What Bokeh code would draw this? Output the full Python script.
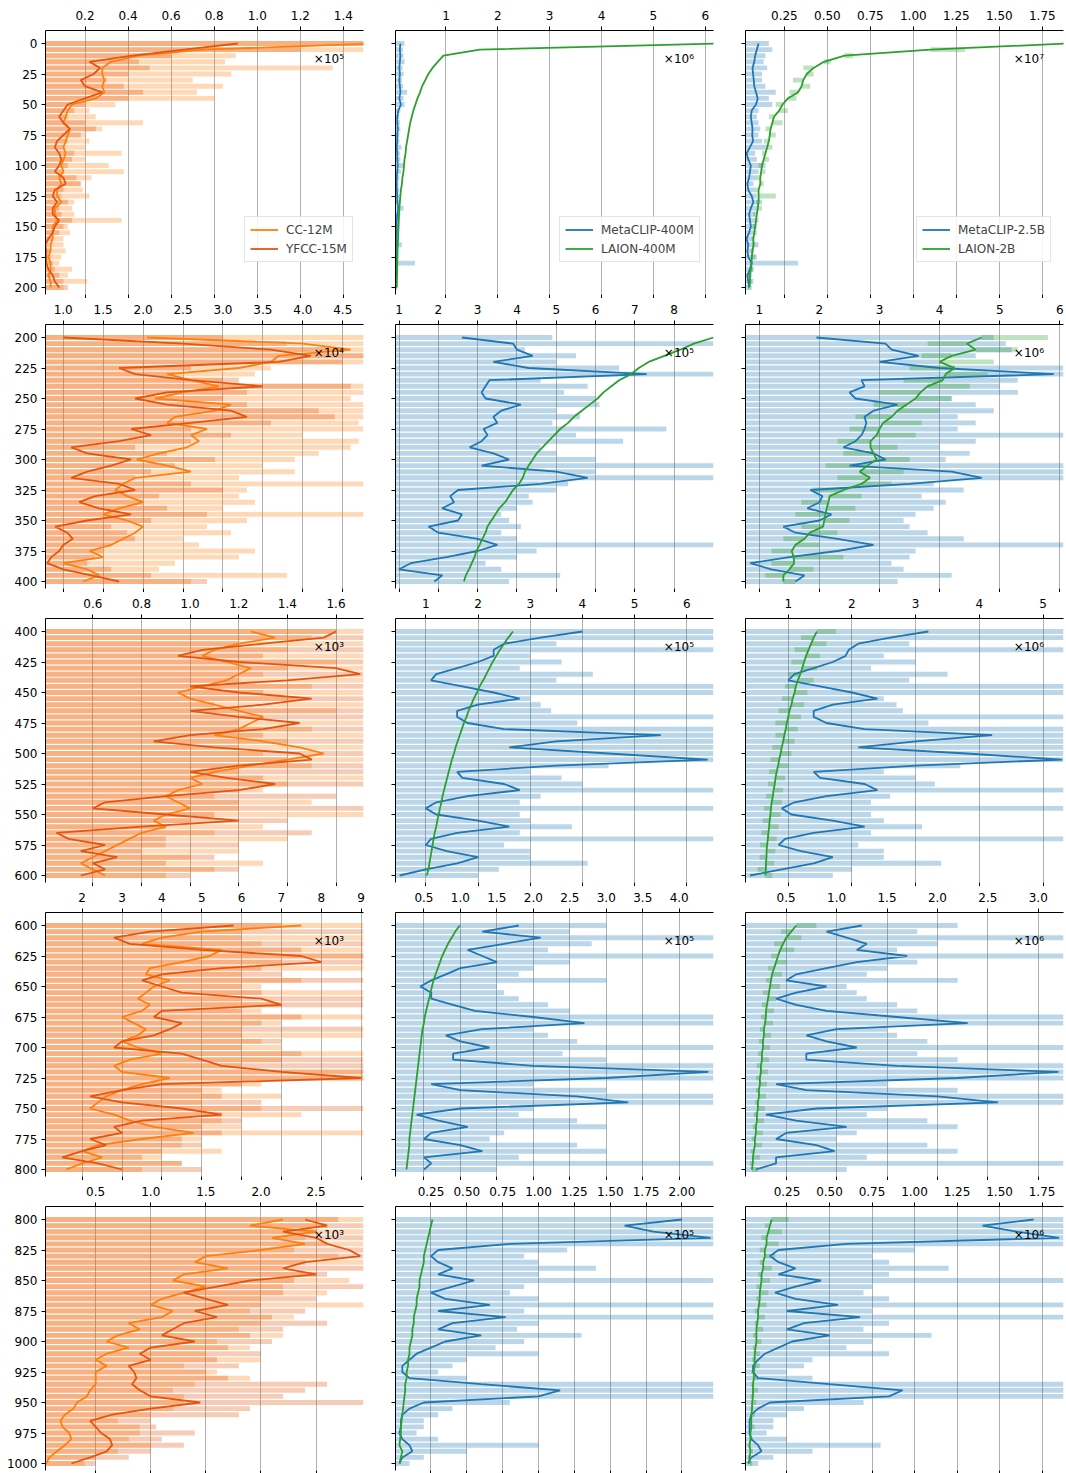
from bokeh.plotting import figure
from bokeh.layouts import row, column
from bokeh.models import Range1d, LinearAxis, FixedTicker, Label, Legend, LegendItem
from bokeh.embed import file_html
from bokeh.resources import INLINE

FONT = "DejaVu Sans"
CLASS_STEP = 5
ROW_START = [0, 200, 400, 600, 800]
EXPONENT = [[5, 6, 7], [4, 5, 6], [3, 5, 6], [3, 5, 6], [3, 5, 6]]
X_LIMITS = [
    [(0.0165, 1.4935), (0.026, 6.16), (0.024, 1.873)],
    [(0.778, 4.76), (0.91, 9.0), (0.77, 6.06)],
    [(0.405, 1.713), (0.42, 6.51), (0.33, 5.32)],
    [(1.08, 9.06), (0.11, 4.47), (0.097, 3.25)],
    [(0.045, 2.93), (0.0025, 2.22), (0.006, 1.876)],
]
X_TICKS = [
    [["0.2", "0.4", "0.6", "0.8", "1.0", "1.2", "1.4"], ["1", "2", "3", "4", "5", "6"],
     ["0.25", "0.50", "0.75", "1.00", "1.25", "1.50", "1.75"]],
    [["1.0", "1.5", "2.0", "2.5", "3.0", "3.5", "4.0", "4.5"], ["1", "2", "3", "4", "5", "6", "7", "8"],
     ["1", "2", "3", "4", "5", "6"]],
    [["0.6", "0.8", "1.0", "1.2", "1.4", "1.6"], ["1", "2", "3", "4", "5", "6"], ["1", "2", "3", "4", "5"]],
    [["2", "3", "4", "5", "6", "7", "8", "9"], ["0.5", "1.0", "1.5", "2.0", "2.5", "3.0", "3.5", "4.0"],
     ["0.5", "1.0", "1.5", "2.0", "2.5", "3.0"]],
    [["0.5", "1.0", "1.5", "2.0", "2.5"], ["0.25", "0.50", "0.75", "1.00", "1.25", "1.50", "1.75", "2.00"],
     ["0.25", "0.50", "0.75", "1.00", "1.25", "1.50", "1.75"]],
]

# ---- smoothed per-class counts (in panel units), one list per 200-class row, every 5 classes
CC12M_LINE = [
    [1.55, 0.75, 0.45, 0.32, 0.28, 0.28, 0.29, 0.28, 0.29, 0.25, 0.14, 0.12, 0.11, 0.10, 0.13, 0.12, 0.11, 0.10, 0.11, 0.10,
     0.09, 0.10, 0.08, 0.09, 0.07, 0.07, 0.09, 0.06, 0.06, 0.07, 0.05, 0.05, 0.05, 0.04, 0.04, 0.03, 0.04, 0.04, 0.03, 0.04, 0.04],
    [2.05, 4.0, 4.6, 3.7, 3.6, 3.2, 2.3, 2.6, 2.95, 2.5, 2.15, 3.1, 2.9, 2.4, 2.3, 2.8, 2.6, 2.7, 2.55, 2.2,
     1.92, 2.3, 2.6, 1.9, 1.75, 1.65, 1.8, 2.0, 1.7, 1.5, 1.8, 2.0, 1.9, 1.75, 1.6, 1.33, 1.5, 1.0, 1.3, 1.45, 1.25],
    [1.25, 1.35, 1.2, 1.1, 1.05, 1.15, 1.25, 1.2, 1.15, 1.05, 0.95, 1.0, 1.1, 1.2, 1.3, 1.25, 1.2, 1.1, 1.3, 1.45,
     1.55, 1.4, 1.25, 1.1, 1.0, 1.05, 0.95, 0.9, 0.95, 1.0, 0.9, 0.85, 0.9, 0.8, 0.75, 0.7, 0.65, 0.6, 0.55, 0.6, 0.65],
    [7.5, 5.0, 4.0, 3.5, 5.5, 5.2, 4.5, 3.7, 3.6, 4.2, 3.8, 3.6, 3.4, 3.7, 3.5, 3.0, 3.3, 3.6, 3.4, 3.0,
     3.4, 4.0, 3.2, 2.8, 3.0, 4.2, 3.5, 3.0, 2.6, 2.4, 2.2, 2.8, 3.2, 3.8, 4.8, 3.5, 2.4, 2.0, 2.5, 2.0, 1.6],
    [2.2, 1.9, 2.5, 2.1, 2.4, 2.0, 1.5, 1.4, 1.7, 1.3, 1.2, 1.5, 1.3, 1.1, 1.0, 1.2, 1.1, 0.8, 0.9, 0.7,
     0.6, 0.8, 0.6, 0.5, 0.6, 0.5, 0.5, 0.5, 0.45, 0.42, 0.33, 0.3, 0.22, 0.18, 0.2, 0.26, 0.28, 0.22, 0.15, 0.08, 0.05],
]
YFCC_LINE = [
    [0.91, 0.66, 0.42, 0.22, 0.27, 0.24, 0.18, 0.2, 0.28, 0.2, 0.12, 0.1, 0.08, 0.1, 0.13, 0.1, 0.07, 0.06, 0.08, 0.09,
     0.08, 0.06, 0.1, 0.11, 0.06, 0.05, 0.07, 0.05, 0.05, 0.08, 0.06, 0.05, 0.03, 0.015, 0.02, 0.02, 0.02, 0.03, 0.05, 0.06, 0.08],
    [1.0, 2.5, 3.6, 4.1, 3.7, 1.7, 1.9, 2.6, 3.5, 2.3, 1.9, 2.3, 3.1, 3.3, 2.6, 1.85, 2.1, 1.7, 1.1, 1.3,
     1.85, 1.6, 1.3, 1.1, 1.7, 1.9, 1.4, 1.2, 1.45, 1.85, 1.3, 0.9, 1.05, 1.12, 1.0, 0.95, 0.85, 0.8, 1.0, 1.35, 1.7],
    [1.6, 1.55, 1.3, 1.05, 0.95, 1.2, 1.6, 1.7, 1.4, 1.0, 1.2, 1.5, 1.3, 1.0, 1.2, 1.45, 1.3, 1.0, 0.85, 1.1,
     1.45, 1.5, 1.2, 1.0, 1.15, 1.35, 1.2, 0.9, 0.65, 0.6, 0.9, 1.2, 0.8, 0.45, 0.5, 0.65, 0.55, 0.7, 0.6, 0.65, 0.55],
    [5.8, 3.7, 2.8, 3.2, 5.0, 7.5, 8.0, 5.5, 4.0, 3.5, 4.0, 4.5, 6.5, 7.0, 4.0, 3.8, 4.5, 4.2, 3.8, 3.0,
     2.8, 4.5, 5.0, 5.5, 7.0, 9.0, 4.0, 3.0, 2.2, 3.0, 4.5, 5.5, 3.5, 2.8, 3.0, 2.2, 2.6, 2.0, 1.5, 2.4, 3.0],
    [2.4, 2.6, 2.2, 2.5, 2.6, 2.8, 2.9, 2.4, 2.2, 2.5, 1.9, 1.6, 1.3, 1.5, 1.7, 1.4, 1.6, 1.3, 1.2, 1.1,
     1.4, 1.0, 0.9, 1.0, 0.8, 0.85, 0.87, 0.83, 0.9, 1.0, 1.45, 1.0, 0.65, 0.45, 0.5, 0.55, 0.63, 0.65, 0.6, 0.45, 0.28],
]
META400_LINE = [
    [0.12, 0.11, 0.12, 0.11, 0.1, 0.11, 0.1, 0.11, 0.12, 0.1, 0.13, 0.08, 0.06, 0.06, 0.07, 0.06, 0.06, 0.05, 0.06, 0.06,
     0.07, 0.06, 0.05, 0.05, 0.05, 0.06, 0.06, 0.08, 0.06, 0.05, 0.05, 0.05, 0.04, 0.05, 0.04, 0.04, 0.04, 0.05, 0.04, 0.04, 0.04],
    [2.6, 3.9, 4.0, 4.4, 3.4, 4.3, 7.3, 3.3, 3.2, 3.1, 3.2, 4.1, 3.6, 3.4, 3.5, 3.15, 3.25, 3.1, 2.8, 3.4,
     3.8, 3.1, 5.0, 5.8, 4.6, 2.5, 2.3, 2.4, 2.1, 2.6, 2.5, 1.75, 2.0, 3.0, 3.5, 3.0, 2.2, 1.3, 1.0, 2.1, 1.9],
    [4.0, 3.2, 2.5, 2.3, 2.3, 2.0, 1.6, 1.2, 1.1, 1.7, 2.3, 2.8, 2.0, 1.6, 1.6, 1.8, 2.5, 5.5, 3.5, 2.6,
     4.5, 6.4, 3.5, 1.6, 1.7, 2.5, 2.8, 1.8, 1.2, 1.0, 1.2, 2.0, 2.6, 1.6, 1.1, 1.0, 1.4, 2.0, 1.6, 1.0, 0.5],
    [1.8, 1.3, 2.1, 1.6, 1.1, 1.3, 1.5, 1.0, 0.8, 0.6, 0.45, 0.6, 0.6, 0.9, 1.2, 2.0, 2.7, 1.3, 0.8, 1.0,
     1.4, 0.9, 0.9, 2.0, 4.4, 3.0, 0.6, 1.0, 2.6, 3.3, 1.0, 0.4, 0.7, 1.1, 0.6, 0.5, 1.0, 1.3, 0.5, 0.6, 0.5],
    [2.0, 1.6, 1.8, 2.2, 0.8, 0.3, 0.25, 0.3, 0.4, 0.3, 0.55, 0.4, 0.25, 0.35, 0.66, 0.3, 0.77, 0.4, 0.3, 0.6,
     0.35, 0.25, 0.15, 0.1, 0.05, 0.05, 0.1, 0.6, 1.15, 1.0, 0.2, 0.1, 0.05, 0.04, 0.04, 0.03, 0.05, 0.1, 0.12, 0.05, 0.03],
]
LAION400_LINE = [
    [6.3, 1.65, 0.95, 0.84, 0.74, 0.66, 0.6, 0.54, 0.5, 0.45, 0.41, 0.37, 0.34, 0.31, 0.29, 0.27, 0.25, 0.23, 0.22, 0.2,
     0.19, 0.18, 0.16, 0.15, 0.13, 0.12, 0.11, 0.1, 0.095, 0.09, 0.085, 0.08, 0.075, 0.07, 0.065, 0.062, 0.06, 0.058, 0.055, 0.052, 0.05],
    [9.0, 8.5, 8.15, 7.75, 7.35, 7.1, 6.9, 6.6, 6.4, 6.2, 6.05, 5.85, 5.65, 5.45, 5.3, 5.1, 4.95, 4.8, 4.65, 4.5,
     4.4, 4.3, 4.2, 4.15, 4.05, 3.9, 3.8, 3.7, 3.55, 3.45, 3.35, 3.25, 3.2, 3.12, 3.05, 2.97, 2.92, 2.85, 2.78, 2.7, 2.65],
    [2.67, 2.58, 2.5, 2.42, 2.35, 2.28, 2.22, 2.16, 2.1, 2.03, 1.98, 1.92, 1.87, 1.82, 1.78, 1.73, 1.69, 1.65, 1.61, 1.57,
     1.54, 1.5, 1.47, 1.44, 1.41, 1.38, 1.35, 1.32, 1.3, 1.27, 1.25, 1.22, 1.2, 1.17, 1.15, 1.13, 1.11, 1.09, 1.07, 1.05, 1.02],
    [0.99, 0.93, 0.88, 0.83, 0.79, 0.75, 0.72, 0.69, 0.66, 0.63, 0.61, 0.59, 0.57, 0.55, 0.53, 0.51, 0.5, 0.48, 0.47, 0.46,
     0.45, 0.44, 0.43, 0.42, 0.41, 0.4, 0.39, 0.38, 0.37, 0.36, 0.35, 0.34, 0.33, 0.32, 0.31, 0.3, 0.3, 0.29, 0.28, 0.27, 0.26],
    [0.26, 0.25, 0.24, 0.23, 0.22, 0.21, 0.2, 0.2, 0.19, 0.18, 0.17, 0.17, 0.16, 0.15, 0.15, 0.14, 0.13, 0.13, 0.12, 0.12,
     0.11, 0.1, 0.1, 0.09, 0.09, 0.08, 0.08, 0.07, 0.07, 0.065, 0.06, 0.055, 0.05, 0.045, 0.04, 0.04, 0.035, 0.03, 0.05, 0.04, 0.03],
]
META25_LINE = [
    [0.1, 0.09, 0.08, 0.075, 0.065, 0.068, 0.072, 0.075, 0.085, 0.095, 0.085, 0.06, 0.055, 0.06, 0.065, 0.063, 0.068, 0.05, 0.03, 0.04,
     0.055, 0.05, 0.045, 0.035, 0.04, 0.06, 0.07, 0.055, 0.045, 0.05, 0.055, 0.045, 0.03, 0.04, 0.035, 0.04, 0.06, 0.05, 0.035, 0.04, 0.045],
    [1.95, 3.1, 3.2, 3.65, 3.0, 4.0, 5.9, 2.7, 2.75, 2.5, 2.6, 3.3, 2.9, 2.75, 2.78, 2.75, 2.7, 2.6, 2.4, 2.9,
     3.1, 2.5, 4.2, 4.7, 3.5, 1.85, 2.05, 2.0, 1.8, 2.2, 2.0, 1.4, 1.6, 2.3, 2.9, 2.3, 1.5, 0.85, 1.2, 1.75, 1.6],
    [3.2, 2.6, 2.1, 1.95, 1.9, 1.7, 1.4, 1.1, 1.0, 1.5, 2.0, 2.4, 1.7, 1.4, 1.4, 1.6, 2.2, 4.2, 3.0, 2.1,
     3.8, 5.3, 3.0, 1.4, 1.5, 2.2, 2.4, 1.6, 1.1, 0.9, 1.05, 1.7, 2.2, 1.4, 0.95, 0.85, 1.2, 1.7, 1.4, 0.9, 0.4],
    [1.25, 0.9, 1.1, 1.3, 1.2, 1.7, 1.2, 0.9, 0.6, 0.5, 0.9, 0.6, 0.4, 0.6, 0.9, 1.6, 2.3, 1.0, 0.7, 0.9,
     1.2, 0.7, 0.7, 1.6, 3.2, 2.2, 0.4, 0.7, 2.0, 2.6, 0.8, 0.3, 0.6, 1.1, 0.5, 0.4, 0.8, 0.98, 0.4, 0.4, 0.2],
    [1.7, 1.4, 1.6, 1.85, 0.6, 0.2, 0.15, 0.2, 0.3, 0.2, 0.45, 0.3, 0.18, 0.3, 0.55, 0.25, 0.68, 0.35, 0.25, 0.5,
     0.28, 0.2, 0.12, 0.08, 0.05, 0.05, 0.08, 0.5, 0.93, 0.85, 0.15, 0.08, 0.04, 0.03, 0.03, 0.03, 0.04, 0.08, 0.1, 0.04, 0.02],
]
LAION2B_LINE = [
    [1.9, 1.1, 0.6, 0.48, 0.42, 0.38, 0.36, 0.35, 0.33, 0.27, 0.24, 0.22, 0.19, 0.18, 0.17, 0.165, 0.16, 0.15, 0.14, 0.13,
     0.12, 0.115, 0.11, 0.11, 0.1, 0.1, 0.1, 0.095, 0.09, 0.085, 0.08, 0.075, 0.07, 0.07, 0.065, 0.06, 0.06, 0.055, 0.05, 0.05, 0.047],
    [4.7, 4.45, 4.6, 4.2, 4.0, 4.25, 4.1, 4.05, 3.8, 3.68, 3.6, 3.45, 3.3, 3.2, 3.06, 3.0, 2.95, 2.85, 2.85, 2.9,
     2.95, 2.8, 2.67, 2.84, 2.7, 2.4, 2.17, 2.15, 2.12, 2.1, 2.08, 2.06, 1.84, 1.75, 1.6, 1.54, 1.57, 1.58, 1.5, 1.4, 1.4],
    [1.45, 1.4, 1.36, 1.32, 1.28, 1.25, 1.22, 1.19, 1.15, 1.12, 1.1, 1.07, 1.05, 1.02, 1.0, 0.98, 0.96, 0.94, 0.92, 0.9,
     0.88, 0.86, 0.84, 0.82, 0.8, 0.79, 0.77, 0.76, 0.74, 0.73, 0.72, 0.71, 0.7, 0.69, 0.68, 0.67, 0.66, 0.66, 0.65, 0.65, 0.64],
    [0.6, 0.55, 0.5, 0.47, 0.44, 0.42, 0.4, 0.38, 0.36, 0.35, 0.34, 0.33, 0.32, 0.31, 0.3, 0.3, 0.29, 0.28, 0.28, 0.27,
     0.27, 0.26, 0.26, 0.25, 0.25, 0.24, 0.24, 0.23, 0.23, 0.22, 0.22, 0.21, 0.21, 0.2, 0.2, 0.19, 0.19, 0.18, 0.17, 0.17, 0.16],
    [0.16, 0.15, 0.14, 0.13, 0.13, 0.12, 0.12, 0.11, 0.11, 0.1, 0.1, 0.095, 0.09, 0.09, 0.085, 0.08, 0.08, 0.075, 0.07, 0.07,
     0.07, 0.065, 0.06, 0.06, 0.06, 0.055, 0.055, 0.05, 0.05, 0.05, 0.045, 0.045, 0.04, 0.04, 0.04, 0.035, 0.035, 0.03, 0.035, 0.03, 0.03],
]

# ---- raw per-class counts (bars), same class grid
CC12M_BAR = [
    [1.6, 1.6, 0.9, 0.85, 1.35, 0.88, 0.7, 0.84, 0.72, 0.8, 0.34, 0.22, 0.25, 0.47, 0.28, 0.2, 0.22, 0.2, 0.37, 0.2,
     0.31, 0.38, 0.23, 0.18, 0.19, 0.22, 0.15, 0.14, 0.15, 0.37, 0.12, 0.13, 0.1, 0.1, 0.11, 0.09, 0.08, 0.14, 0.12, 0.21, 0.1],
    [4.8, 4.8, 4.8, 4.8, 4.8, 3.6, 3.4, 3.0, 4.8, 4.8, 4.6, 4.8, 4.8, 4.8, 4.7, 4.8, 4.0, 4.7, 4.6, 4.2,
     3.9, 3.5, 3.9, 3.2, 4.8, 3.3, 3.2, 3.4, 3.0, 4.8, 3.3, 2.8, 3.1, 2.5, 2.7, 3.4, 3.2, 2.4, 2.2, 3.8, 2.6],
    [1.75, 1.5, 1.75, 1.4, 1.75, 1.6, 1.75, 1.3, 1.75, 1.5, 1.75, 1.45, 1.75, 1.6, 1.3, 1.75, 1.5, 1.75, 1.4, 1.75,
     1.3, 1.75, 1.5, 1.2, 1.75, 1.4, 1.3, 1.1, 1.5, 1.2, 1.75, 1.0, 1.3, 1.1, 1.4, 0.9, 1.2, 1.0, 1.3, 1.1, 0.9],
    [9.1, 6.0, 9.1, 6.5, 9.1, 9.1, 7.0, 9.1, 6.0, 7.5, 6.5, 9.1, 6.0, 7.0, 6.5, 9.1, 7.0, 6.0, 9.1, 6.5,
     7.0, 9.1, 7.0, 6.0, 9.1, 9.1, 6.5, 5.5, 7.0, 5.0, 6.5, 7.5, 5.5, 6.0, 9.1, 5.0, 4.5, 5.5, 4.0, 4.5, 3.5],
    [2.95, 2.6, 2.95, 2.4, 2.95, 2.3, 2.7, 2.95, 2.2, 2.5, 2.8, 2.2, 2.6, 2.0, 2.95, 1.9, 2.3, 2.0, 1.8, 2.2,
     1.6, 1.9, 1.5, 2.0, 1.3, 1.6, 1.9, 1.4, 1.2, 1.3, 1.3, 1.2, 1.0, 0.7, 0.9, 0.9, 0.8, 1.0, 0.7, 0.5, 0.4],
]
YFCC_BAR = [
    [1.5, 1.2, 0.6, 0.45, 0.5, 0.4, 0.3, 0.38, 0.47, 0.4, 0.2, 0.15, 0.12, 0.2, 0.25, 0.18, 0.12, 0.1, 0.15, 0.14,
     0.12, 0.1, 0.16, 0.18, 0.1, 0.09, 0.12, 0.08, 0.09, 0.14, 0.1, 0.08, 0.05, 0.03, 0.04, 0.04, 0.05, 0.06, 0.08, 0.1, 0.12],
    [3.0, 3.8, 4.5, 4.8, 4.5, 2.6, 2.4, 3.2, 4.6, 3.3, 3.0, 3.3, 4.2, 4.4, 3.6, 2.6, 3.1, 2.6, 1.9, 2.3,
     2.9, 2.4, 2.1, 1.9, 2.6, 3.0, 2.2, 2.0, 2.3, 2.8, 2.1, 1.6, 1.8, 1.9, 1.6, 1.5, 1.4, 1.3, 1.6, 2.1, 2.8],
    [1.6, 1.75, 1.2, 1.75, 1.3, 1.75, 1.4, 1.75, 1.2, 1.75, 1.3, 1.75, 1.1, 1.75, 1.75, 1.2, 1.75, 1.3, 1.75, 1.2,
     1.75, 1.4, 1.75, 1.75, 1.3, 1.75, 1.2, 1.6, 1.2, 1.75, 1.1, 1.4, 0.9, 1.5, 0.9, 1.2, 0.8, 1.1, 0.9, 1.2, 1.0],
    [7.0, 9.1, 6.0, 9.1, 7.5, 9.1, 9.1, 6.5, 7.0, 9.1, 6.0, 6.5, 9.1, 9.1, 6.0, 7.5, 6.5, 9.1, 6.0, 7.0,
     6.0, 7.5, 9.1, 9.1, 9.1, 9.1, 6.0, 5.0, 5.5, 6.5, 9.1, 5.5, 6.0, 5.0, 5.5, 4.5, 5.0, 4.0, 3.5, 4.5, 5.0],
    [2.7, 2.95, 2.5, 2.95, 2.6, 2.95, 2.95, 2.4, 2.95, 2.6, 2.3, 2.95, 2.2, 2.5, 2.0, 2.4, 2.1, 2.6, 2.2, 1.9,
     2.1, 1.7, 2.0, 1.6, 1.8, 1.5, 1.7, 2.6, 2.4, 2.2, 2.95, 1.9, 1.8, 1.0, 1.05, 1.4, 1.1, 1.3, 1.0, 0.8, 0.5],
]
META400_BAR = [
    [0.2, 0.17, 0.18, 0.2, 0.16, 0.18, 0.15, 0.17, 0.25, 0.18, 0.2, 0.12, 0.1, 0.11, 0.12, 0.1, 0.1, 0.14, 0.11, 0.12,
     0.18, 0.13, 0.1, 0.08, 0.1, 0.1, 0.12, 0.18, 0.12, 0.09, 0.08, 0.09, 0.1, 0.15, 0.08, 0.08, 0.4, 0.07, 0.06, 0.07, 0.06],
    [4.9, 9.1, 4.2, 5.5, 5.0, 6.6, 9.1, 4.6, 5.8, 5.2, 6.0, 6.1, 5.0, 5.6, 4.9, 7.8, 5.5, 6.7, 4.6, 5.0,
     6.0, 9.1, 6.0, 9.1, 5.3, 5.0, 4.3, 4.4, 4.0, 3.6, 3.8, 4.1, 3.6, 4.0, 9.1, 4.5, 4.0, 3.2, 3.6, 5.1, 3.8],
    [6.6, 6.6, 3.5, 6.6, 3.0, 3.6, 2.8, 4.2, 3.5, 6.6, 6.6, 3.0, 3.2, 3.4, 6.6, 3.9, 6.6, 6.6, 6.6, 6.6,
     6.6, 6.6, 4.5, 3.0, 3.6, 4.0, 6.6, 3.2, 2.8, 6.6, 2.8, 3.0, 3.8, 2.8, 6.6, 2.5, 3.0, 3.0, 4.1, 2.4, 2.0],
    [3.0, 2.5, 4.5, 2.8, 2.2, 4.5, 2.5, 2.0, 1.8, 3.0, 1.5, 1.6, 1.8, 2.2, 2.5, 4.5, 4.5, 2.0, 2.2, 2.6,
     4.5, 2.4, 3.0, 4.5, 4.5, 4.5, 2.0, 3.0, 4.5, 4.5, 2.0, 1.8, 2.6, 3.0, 1.6, 1.4, 2.6, 3.0, 1.8, 4.5, 1.5],
    [2.25, 2.25, 2.25, 2.25, 2.25, 1.2, 0.9, 1.0, 1.4, 1.0, 2.25, 0.9, 0.8, 1.0, 2.25, 0.9, 2.25, 1.0, 0.85, 1.3,
     0.9, 0.7, 1.0, 0.5, 0.4, 0.3, 0.5, 2.25, 2.25, 2.25, 0.8, 0.4, 0.3, 0.2, 0.2, 0.15, 0.3, 1.0, 0.5, 0.2, 0.1],
]
META25_BAR = [
    [0.16, 0.18, 0.14, 0.13, 0.15, 0.12, 0.12, 0.14, 0.2, 0.16, 0.18, 0.1, 0.09, 0.1, 0.11, 0.1, 0.12, 0.15, 0.08, 0.09,
     0.14, 0.1, 0.09, 0.07, 0.08, 0.09, 0.12, 0.1, 0.08, 0.09, 0.09, 0.08, 0.07, 0.1, 0.07, 0.09, 0.33, 0.07, 0.06, 0.07, 0.06],
    [4.9, 5.1, 5.2, 4.6, 4.0, 6.1, 6.1, 5.3, 5.0, 5.3, 4.2, 4.6, 4.9, 4.3, 4.6, 4.3, 6.1, 4.6, 4.0, 4.5,
     4.1, 6.1, 6.1, 6.1, 3.9, 4.4, 3.7, 4.1, 3.9, 3.6, 3.4, 3.5, 3.8, 4.4, 6.1, 3.6, 3.5, 3.2, 3.4, 4.2, 3.3],
    [5.4, 5.4, 2.9, 5.4, 2.5, 3.0, 2.3, 3.5, 2.9, 5.4, 5.4, 2.5, 2.7, 2.8, 5.4, 3.2, 5.4, 5.4, 5.4, 5.4,
     5.4, 5.4, 3.7, 2.5, 3.0, 3.3, 5.4, 2.6, 2.3, 5.4, 2.3, 2.5, 3.1, 2.3, 5.4, 2.1, 2.5, 2.5, 3.4, 2.0, 1.7],
    [2.2, 1.8, 3.3, 2.0, 1.6, 3.3, 1.8, 1.5, 1.3, 2.2, 1.1, 1.2, 1.3, 1.6, 1.8, 3.3, 3.3, 1.5, 1.6, 1.9,
     3.3, 1.8, 2.2, 3.3, 3.3, 3.3, 1.5, 2.2, 3.3, 3.3, 1.5, 1.3, 1.9, 2.2, 1.2, 1.0, 1.9, 2.2, 1.3, 3.3, 1.1],
    [1.9, 1.9, 1.9, 1.9, 1.9, 1.0, 0.75, 0.85, 1.2, 0.85, 1.9, 0.75, 0.7, 0.85, 1.9, 0.75, 1.9, 0.85, 0.7, 1.1,
     0.75, 0.6, 0.85, 0.4, 0.35, 0.25, 0.4, 1.9, 1.9, 1.9, 0.7, 0.35, 0.25, 0.17, 0.17, 0.13, 0.25, 0.8, 0.4, 0.17, 0.08],
]
LAION2B_BAR = [
    [1.9, 1.3, 0.65, 0.52, 0.36, 0.42, 0.3, 0.4, 0.28, 0.32, 0.2, 0.27, 0.16, 0.24, 0.14, 0.2, 0.13, 0.18, 0.12, 0.16,
     0.1, 0.14, 0.09, 0.13, 0.08, 0.2, 0.085, 0.12, 0.07, 0.1, 0.065, 0.09, 0.06, 0.08, 0.055, 0.08, 0.05, 0.07, 0.04, 0.06, 0.04],
    [5.8, 3.8, 5.3, 3.7, 4.9, 3.5, 4.8, 3.4, 4.5, 3.0, 4.2, 2.9, 4.0, 2.6, 3.7, 2.5, 3.6, 2.3, 3.3, 2.4,
     3.5, 2.1, 3.4, 2.3, 3.2, 1.9, 2.7, 1.7, 2.6, 1.6, 2.5, 1.7, 2.3, 1.4, 2.0, 1.2, 2.4, 1.2, 1.9, 1.1, 1.6],
    [1.75, 1.2, 1.6, 1.1, 1.5, 1.05, 1.45, 1.0, 1.4, 0.95, 1.3, 0.9, 1.25, 0.85, 1.2, 0.8, 1.15, 0.8, 1.1, 0.75,
     1.05, 0.72, 1.0, 0.7, 0.95, 0.68, 0.92, 0.65, 0.9, 0.62, 0.88, 0.6, 0.85, 0.58, 0.82, 0.56, 0.8, 0.55, 0.78, 0.52, 0.75],
    [0.8, 0.45, 0.65, 0.38, 0.58, 0.35, 0.5, 0.32, 0.46, 0.3, 0.44, 0.27, 0.4, 0.26, 0.38, 0.25, 0.37, 0.24, 0.35, 0.23,
     0.34, 0.22, 0.33, 0.21, 0.32, 0.2, 0.31, 0.2, 0.3, 0.19, 0.29, 0.18, 0.28, 0.17, 0.27, 0.16, 0.26, 0.15, 0.24, 0.14, 0.22],
    [0.26, 0.12, 0.22, 0.1, 0.2, 0.09, 0.18, 0.09, 0.16, 0.08, 0.15, 0.07, 0.14, 0.07, 0.13, 0.06, 0.12, 0.06, 0.11, 0.05,
     0.1, 0.05, 0.09, 0.045, 0.09, 0.04, 0.08, 0.04, 0.08, 0.035, 0.07, 0.035, 0.06, 0.03, 0.06, 0.025, 0.05, 0.02, 0.05, 0.02, 0.045],
]

C_CC, C_YFCC, C_BLUE, C_GREEN = "#ff7f0e", "#e6550d", "#1f77b4", "#2ca02c"
COLUMN_SERIES = [
    [("CC-12M", C_CC, CC12M_LINE, CC12M_BAR, False), ("YFCC-15M", C_YFCC, YFCC_LINE, YFCC_BAR, False)],
    [("MetaCLIP-400M", C_BLUE, META400_LINE, META400_BAR, False), ("LAION-400M", C_GREEN, LAION400_LINE, None, False)],
    [("MetaCLIP-2.5B", C_BLUE, META25_LINE, META25_BAR, False), ("LAION-2B", C_GREEN, LAION2B_LINE, LAION2B_BAR, True)],
]
LEGEND_X = [199, 164, 171]
SUP = str.maketrans("0123456789", "⁰¹²³⁴⁵⁶⁷⁸⁹")

FRAME_W, FRAME_H = 318, 264
PX_PER_CLASS = 1.22
Y_TOP_PAD = 13 / PX_PER_CLASS
Y_SPAN = FRAME_H / PX_PER_CLASS


def style_axis(ax, show_labels, standoff=4):
    ax.axis_line_color = "black"
    ax.axis_line_width = 1
    ax.major_tick_in = 0
    ax.major_tick_out = 4
    ax.major_tick_line_color = "black"
    ax.minor_tick_line_color = None
    ax.major_label_text_font = FONT
    ax.major_label_text_font_size = "12px"
    if show_labels:
        ax.major_label_text_color = "black"
        ax.major_label_standoff = standoff
    else:
        ax.major_label_text_color = None
        ax.major_label_standoff = 0


def make_panel(r, c):
    off = ROW_START[r]
    lo, hi = X_LIMITS[r][c]
    width = [380, 350, 336][c]
    top = 30 if r == 0 else 26
    bottom = 4
    height = top + FRAME_H + bottom
    p = figure(width=width, height=height,
               x_range=Range1d(lo, hi),
               y_range=Range1d(off - Y_TOP_PAD + Y_SPAN, off - Y_TOP_PAD),
               x_axis_location="above", toolbar_location=None, tools="",
               output_backend="svg",
               min_border_left=45 if c == 0 else 15,
               min_border_right=[17, 17, 3][c],
               min_border_top=top, min_border_bottom=bottom)
    p.outline_line_color = None
    p.background_fill_color = "white"
    p.border_fill_color = "white"

    labels = X_TICKS[r][c]
    tvals = [float(s) for s in labels]
    top_ax = p.above[0]
    top_ax.ticker = FixedTicker(ticks=tvals)
    top_ax.major_label_overrides = {v: s for v, s in zip(tvals, labels)}
    style_axis(top_ax, True, standoff=7)

    bot = LinearAxis(ticker=FixedTicker(ticks=tvals))
    style_axis(bot, False)
    bot.axis_line_color = None
    p.add_layout(bot, "below")

    yvals = [off + 25 * k for k in range(9)]
    yax = p.left[0]
    yax.ticker = FixedTicker(ticks=yvals)
    style_axis(yax, c == 0, standoff=4)

    p.xgrid.ticker = FixedTicker(ticks=tvals)
    p.xgrid.grid_line_color = "#b0b0b0"
    p.xgrid.grid_line_width = 1
    p.ygrid.visible = False

    series = COLUMN_SERIES[c]
    for name, col, lines, bars, from_line in series:
        if bars is None:
            continue
        vals = bars[r]
        ys = [off + CLASS_STEP * k for k in range(len(vals))]
        left = lines[r][:len(vals)] if from_line else 0
        p.hbar(y=ys, left=left, right=vals, height=4.0, fill_color=col,
               fill_alpha=0.3, line_color=None)
    items = []
    for name, col, lines, bars, from_line in series:
        vals = lines[r]
        ys = [off + CLASS_STEP * k for k in range(len(vals))]
        rr = p.line(x=vals, y=ys, line_color=col, line_width=1.8)
        items.append(LegendItem(label=name, renderers=[rr]))

    ppu = FRAME_W / (hi - lo)
    p.add_layout(Label(x=hi - 19.5 / ppu, y=off - Y_TOP_PAD + 28 / PX_PER_CLASS,
                       text="×10" + str(EXPONENT[r][c]).translate(SUP),
                       text_align="right", text_baseline="middle",
                       text_font=FONT, text_font_size="12px", text_color="black"))

    if r == 0:
        leg = Legend(items=items, location=(LEGEND_X[c], 32))
        leg.label_text_font = FONT
        leg.label_text_font_size = "12px"
        leg.glyph_width = 28
        leg.glyph_height = 15
        leg.spacing = 4
        leg.padding = 5
        leg.margin = 0
        leg.label_standoff = 8
        leg.border_line_color = "#cccccc"
        leg.background_fill_alpha = 0.85
        p.add_layout(leg, "center")
    return p


rows = []
for r in range(5):
    rows.append(row(*[make_panel(r, c) for c in range(3)]))
layout = column(*rows)

open("out.html", "w").write(file_html(layout, INLINE))
